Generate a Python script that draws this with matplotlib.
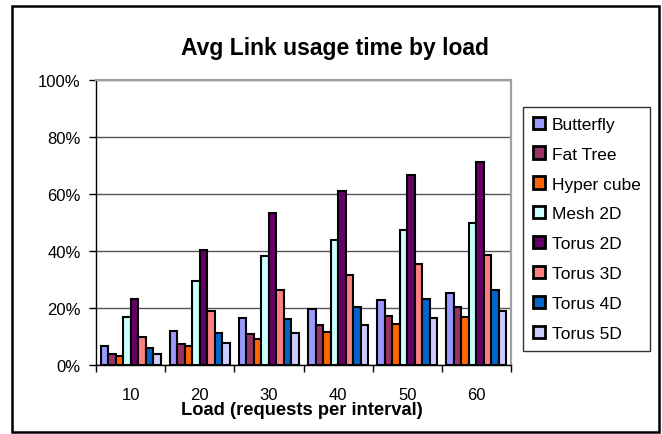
import matplotlib
matplotlib.use("Agg")
import matplotlib.pyplot as plt
import numpy as np
from matplotlib.patches import Rectangle

plt.rcParams['font.family'] = ['Liberation Sans', 'DejaVu Sans']

categories = ['10', '20', '30', '40', '50', '60']
series_names = ['Butterfly', 'Fat Tree', 'Hyper cube', 'Mesh 2D',
                'Torus 2D', 'Torus 3D', 'Torus 4D', 'Torus 5D']
butterfly = [6.5, 12.0, 16.4, 19.5, 22.8, 25.3]
fat_tree = [3.9, 7.4, 11.0, 14.1, 17.2, 20.5]
hyper_cube = [3.2, 6.5, 9.2, 11.7, 14.4, 16.8]
mesh_2d = [16.8, 29.6, 38.4, 43.8, 47.2, 50.0]
torus_2d = [23.2, 40.5, 53.2, 61.2, 66.7, 71.3]
torus_3d = [9.9, 18.8, 26.3, 31.7, 35.6, 38.6]
torus_4d = [5.9, 11.2, 16.3, 20.2, 23.2, 26.2]
torus_5d = [4.0, 7.7, 11.1, 13.9, 16.5, 18.9]
values = [butterfly, fat_tree, hyper_cube, mesh_2d, torus_2d, torus_3d, torus_4d, torus_5d]
colors = ['#9999FF', '#993366', '#FF6600', '#CCFFFF',
          '#660066', '#FF8080', '#0066CC', '#CCCCFF']
yticks = [0, 20, 40, 60, 80, 100]
ytick_labels = ['0%', '20%', '40%', '60%', '80%', '100%']

W, H = 662, 435
fig = plt.figure(figsize=(W / 100, H / 100), dpi=100)
ax = fig.add_axes([96 / W, 1 - 366 / H, (511 - 96) / W, (366 - 81) / H])

n = len(series_names)
bw = 0.867 / n
x = np.arange(len(categories))
for i, (name, vals, c) in enumerate(zip(series_names, values, colors)):
    ax.bar(x + (i - (n - 1) / 2) * bw, vals, width=bw, color=c,
           edgecolor='black', linewidth=1.5, label=name, zorder=3)

ax.set_xlim(-0.5, len(categories) - 0.5)
ax.set_ylim(0, 100)
ax.set_yticks(yticks)
ax.set_yticklabels(ytick_labels, fontsize=12)
ax.yaxis.grid(True, color='#555555', linewidth=1.0, zorder=0)
ax.set_axisbelow(True)

ax.set_xticks(x)
ax.set_xticklabels(categories, fontsize=12)
ax.set_xticks(np.arange(len(categories) + 1) - 0.5, minor=True)
ax.tick_params(axis='x', which='major', length=0, pad=16)
ax.tick_params(axis='x', which='minor', length=5, width=1, color='black', direction='out')
ax.tick_params(axis='y', length=5, width=1, color='black', pad=6)

for s in ['top', 'right']:
    ax.spines[s].set_color('#A0A0A0')
    ax.spines[s].set_linewidth(1.6)
for s in ['left', 'bottom']:
    ax.spines[s].set_color('black')
    ax.spines[s].set_linewidth(1.0)

fig.text(335 / W, 1 - 48 / H, 'Avg Link usage time by load', ha='center', va='center',
         fontsize=16.5, fontweight='bold')
fig.text(302 / W, 1 - 411 / H, 'Load (requests per interval)', ha='center', va='center',
         fontsize=13.2, fontweight='bold')

leg = fig.legend(loc='upper left', bbox_to_anchor=(523 / W, 1 - 108 / H),
                 bbox_transform=fig.transFigure, borderaxespad=0,
                 fontsize=12.5, handlelength=0.7, handleheight=0.7,
                 handletextpad=0.4, labelspacing=0.85, borderpad=0.55,
                 frameon=True, fancybox=False, edgecolor='black')
leg.get_frame().set_linewidth(1.0)
for h in leg.legend_handles:
    h.set_linewidth(2.0)

fig.patches.append(Rectangle((12 / W, 1 - 433 / H), (659 - 12) / W, (433 - 7) / H,
                             transform=fig.transFigure, fill=False,
                             edgecolor='black', linewidth=1.8))

fig.savefig('out.png', dpi=100)
